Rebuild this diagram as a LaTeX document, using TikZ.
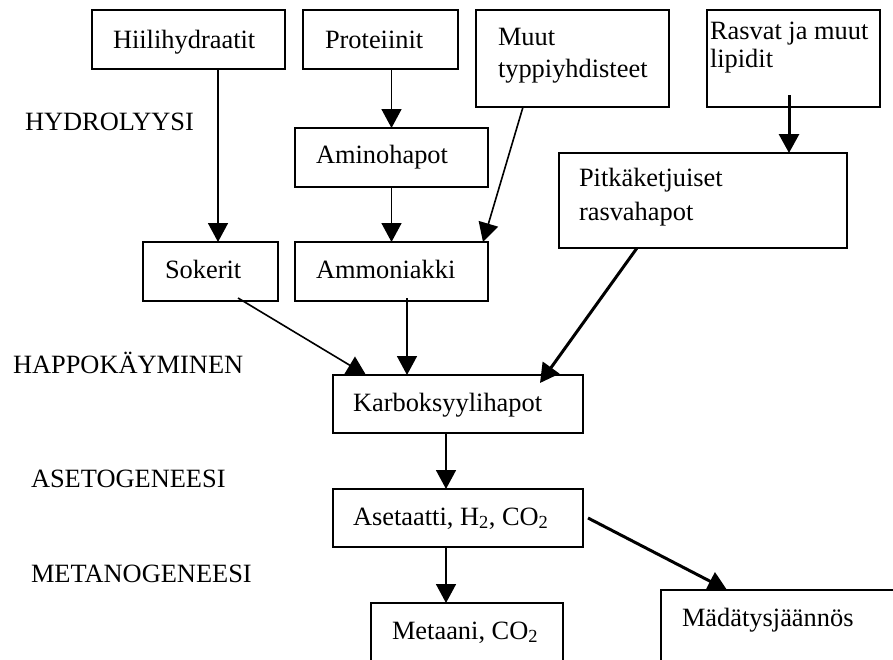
\documentclass[tikz,border=0pt]{standalone}
\usepackage{fontspec}
\setmainfont{Liberation Serif}
\usetikzlibrary{arrows.meta}
\begin{document}
\begin{tikzpicture}[x=1pt,y=-1pt,
  box/.style={draw, line width=1.8pt, inner sep=0pt, outer sep=0pt, anchor=north west},
  txt/.style={inner sep=0pt, outer sep=0pt, anchor=base west, font=\fontsize{26.4}{31}\selectfont},
  arr/.style={line width=1.6pt, -{Triangle[width=20pt,length=19pt]}},
  arrthick/.style={arr, line width=3pt}]
\clip (0,0) rectangle (893,659);

% boxes
\node[box, minimum width=193, minimum height=59] (hiili)   at (92,10)  {};
\node[box, minimum width=155, minimum height=59] (prot)    at (303,10) {};
\node[box, minimum width=193, minimum height=97] (muut)    at (476,10) {};
\node[box, minimum width=173, minimum height=97] (rasvat)  at (707,10) {};
\node[box, minimum width=193, minimum height=59] (amino)   at (295,128) {};
\node[box, minimum width=288, minimum height=95] (pitka)   at (559,153) {};
\node[box, minimum width=135, minimum height=59] (sokerit) at (143,242) {};
\node[box, minimum width=193, minimum height=59] (ammon)   at (295,242) {};
\node[box, minimum width=250, minimum height=58] (karb)    at (333,375) {};
\node[box, minimum width=250, minimum height=58] (aset)    at (333,489) {};
\node[box, minimum width=192, minimum height=90] (metaani) at (371,603) {};
\node[box, minimum width=280, minimum height=90] (mada)    at (661,590) {};

% box texts
\node[txt] (t-hiili)   at (113,48)  {Hiilihydraatit};
\node[txt] (t-prot)    at (325,48)  {Proteiinit};
\node[txt] (t-muut1)   at (498,45)  {Muut};
\node[txt] (t-muut2)   at (498,77)  {typpiyhdisteet};
\node[txt] (t-rasvat1) at (710,39)  {Rasvat ja muut};
\node[txt] (t-rasvat2) at (710,67)  {lipidit};
\node[txt] (t-amino)   at (316,163) {Aminohapot};
\node[txt] (t-pitka1)  at (579,186) {Pitkäketjuiset};
\node[txt] (t-pitka2)  at (579,220) {rasvahapot};
\node[txt] (t-sok)     at (165,278) {Sokerit};
\node[txt] (t-ammon)   at (316,278) {Ammoniakki};
\node[txt] (t-karb)    at (353,411) {Karboksyylihapot};
\node[txt] (t-aset)    at (353,525) {Asetaatti, H\textsubscript{2}, CO\textsubscript{2}};
\node[txt] (t-met)     at (392,639) {Metaani, CO\textsubscript{2}};
\node[txt] (t-mada)    at (682,626) {Mädätysjäännös};

% stage labels
\node[txt] (s-hydro) at (25,130) {HYDROLYYSI};
\node[txt] (s-happo) at (13,373) {HAPPOKÄYMINEN};
\node[txt] (s-aseto) at (31,487) {ASETOGENEESI};
\node[txt] (s-metan) at (31,582) {METANOGENEESI};

% connectors
\draw[arr] ([xshift=29.5pt]hiili.south) -- ([xshift=29.5pt]hiili.south |- sokerit.north);
\draw[arr] (prot.south -| amino.north) -- (amino.north);
\draw[arr] (amino.south) -- (ammon.north);
\draw[arr] ([xshift=-49.5pt]muut.south) -- ([xshift=-5pt]ammon.north east);
\draw[arrthick] ([shift={(-4.5,-12)}]rasvat.south) -- ([xshift=-4.5pt]rasvat.south |- pitka.north);
\draw[arr] ([shift={(27.5,-3)}]sokerit.south) -- ([xshift=33pt]karb.north west);
\draw[arr] ([shift={(15.5,-3)}]ammon.south) -- ([xshift=15.5pt]ammon.south |- karb.north);
\draw[arrthick] ([xshift=78pt]pitka.south west) -- ([shift={(-43,8)}]karb.north east);
\draw[arr] ([xshift=-12pt]karb.south) -- ([xshift=-12pt]aset.north);
\draw[arr] ([xshift=-12pt]aset.south) -- ([xshift=-12pt]aset.south |- metaani.north);
\draw[arrthick] ([xshift=5pt]aset.east) -- ([xshift=66pt]mada.north west);
\end{tikzpicture}
\end{document}
